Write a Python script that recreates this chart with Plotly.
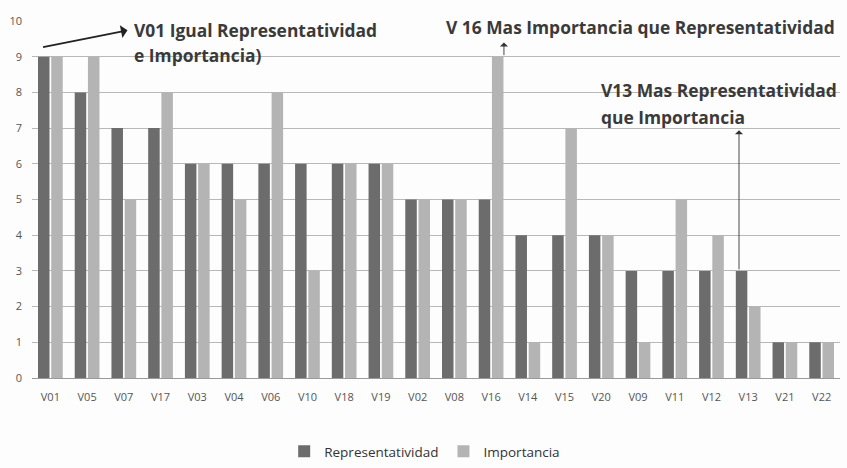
import plotly.graph_objects as go

categories = ["V01", "V05", "V07", "V17", "V03", "V04", "V06", "V10", "V18", "V19", "V02",
              "V08", "V16", "V14", "V15", "V20", "V09", "V11", "V12", "V13", "V21", "V22"]
representatividad = [9, 8, 7, 7, 6, 6, 6, 6, 6, 6, 5, 5, 5, 4, 4, 4, 3, 3, 3, 3, 1, 1]
importancia = [9, 9, 5, 8, 6, 5, 8, 3, 6, 6, 5, 5, 9, 1, 7, 4, 1, 5, 4, 2, 1, 1]
y_ticks = list(range(0, 11))

DARK = "#6c6c6c"
LIGHT = "#b4b4b4"
TXT = "#3a3a3a"
FONT = "Open Sans"

fig = go.Figure()
fig.add_trace(go.Bar(x=categories, y=representatividad, name="Representatividad",
                     marker=dict(color=DARK, line=dict(width=0))))
fig.add_trace(go.Bar(x=categories, y=importancia, name="Importancia",
                     marker=dict(color=LIGHT, line=dict(width=0))))

idx = {c: i for i, c in enumerate(categories)}
ann_font = dict(family=FONT, size=17.4, color=TXT)
i01, i16, i13 = idx["V01"], idx["V16"], idx["V13"]
annotations = [
    # V01 label and arrow
    dict(x=i01 + 2.22, y=9.74, xref="x", yref="y", text="<b>V01 Igual Representatividad</b>",
         showarrow=False, xanchor="left", yanchor="middle", font=ann_font),
    dict(x=i01 + 2.22, y=9.04, xref="x", yref="y", text="<b>e Importancia)</b>",
         showarrow=False, xanchor="left", yanchor="middle", font=ann_font),
    dict(x=i01 + 2.1, y=9.74, ax=i01 - 0.24, ay=9.26, xref="x", yref="y",
         axref="x", ayref="y", text="", showarrow=True, arrowhead=1, arrowsize=1.2,
         arrowwidth=1.8, arrowcolor="#222"),
    # V16 label and arrow
    dict(x=i16 - 1.28, y=9.82, xref="x", yref="y",
         text="<b>V 16 Mas Importancia que Representatividad</b>",
         showarrow=False, xanchor="left", yanchor="middle", font=ann_font),
    dict(x=i16 + 0.35, y=9.4, ax=i16 + 0.35, ay=importancia[i16],
         xref="x", yref="y", axref="x", ayref="y", text="", showarrow=True,
         arrowhead=1, arrowsize=1.5, arrowwidth=0.9, arrowcolor="#333"),
    # V13 label and arrow
    dict(x=i13 - 4.06, y=8.06, xref="x", yref="y", text="<b>V13 Mas Representatividad</b>",
         showarrow=False, xanchor="left", yanchor="middle", font=ann_font),
    dict(x=i13 - 4.06, y=7.3, xref="x", yref="y", text="<b>que Importancia</b>",
         showarrow=False, xanchor="left", yanchor="middle", font=ann_font),
    dict(x=i13 - 0.25, y=6.94, ax=i13 - 0.25, ay=representatividad[i13],
         xref="x", yref="y", axref="x", ayref="y", text="", showarrow=True,
         arrowhead=1, arrowsize=1.5, arrowwidth=0.9, arrowcolor="#333"),
]

fig.update_layout(
    width=847, height=468,
    margin=dict(l=32, r=7, t=21, b=90, autoexpand=False),
    paper_bgcolor="#fdfdfd", plot_bgcolor="#fdfdfd",
    barmode="group", bargap=0.28, bargroupgap=0.13,
    font=dict(family=FONT, size=11, color="#555"),
    showlegend=True,
    legend=dict(orientation="h", x=0.486, xanchor="center", y=-0.206, yanchor="middle",
                font=dict(family=FONT, size=13.5, color="#333"), itemwidth=30,
                bgcolor="rgba(0,0,0,0)"),
    annotations=annotations,
)
fig.update_xaxes(type="category", categoryorder="array", categoryarray=categories,
                 showgrid=False, showline=True, linecolor="#9a9a9a", linewidth=1,
                 ticks="", ticklabelstandoff=9, automargin=False,
                 tickfont=dict(family=FONT, size=11, color="#555"))
fig.update_yaxes(range=[0, 10], tickvals=y_ticks, showgrid=True, gridcolor="#b8b8b8",
                 gridwidth=1, zeroline=False, ticks="", showline=False, ticklabelstandoff=9,
                 automargin=False, tickfont=dict(family=FONT, size=11, color="#555"))

fig.write_html("out.html", config={"displayModeBar": False},
               post_script="document.body.style.margin='0px';")
